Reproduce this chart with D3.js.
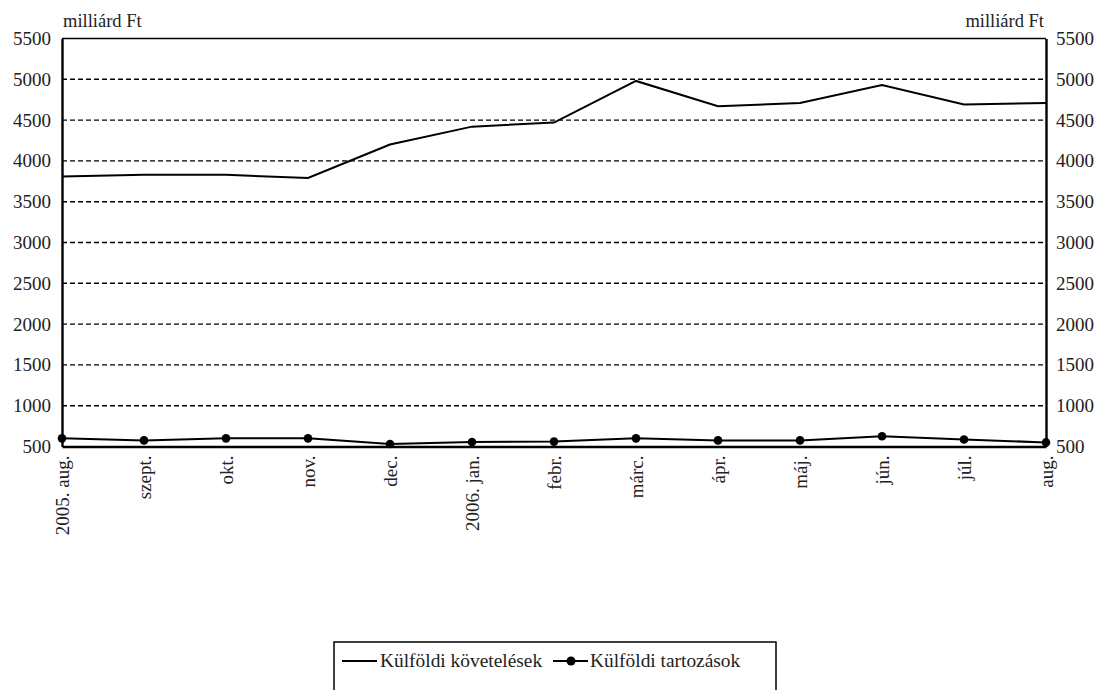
<!DOCTYPE html>
<html><head><meta charset="utf-8">
<script src="https://cdn.jsdelivr.net/npm/d3@7"></script>
<style>
body{margin:0;background:#fff;}
</style></head>
<body><svg id="c" width="1098" height="690"></svg>
<script>
const categories = ["2005. aug.","szept.","okt.","nov.","dec.","2006. jan.","febr.","márc.","ápr.","máj.","jún.","júl.","aug."];
const claims = [3810,3830,3830,3790,4200,4420,4470,4980,4670,4710,4930,4690,4710];
const liabilities = [600,575,600,600,530,555,560,600,575,575,625,585,550];
const yTicks = [500,1000,1500,2000,2500,3000,3500,4000,4500,5000,5500];
const unitLabel = "milliárd Ft";
const seriesNames = ["Külföldi követelések","Külföldi tartozások"];

const FONT = '"Liberation Serif"';
const svg = d3.select("#c");
const L = 62, R = 1046, T = 38.5, B = 446.5;
const x = d3.scalePoint().domain(categories).range([L, R]);
const y = d3.scaleLinear().domain([500, 5500]).range([B, T]);

// gridlines
svg.append("g").selectAll("line").data(yTicks.filter(v => v > 500 && v < 5500)).join("line")
  .attr("x1", L).attr("x2", R).attr("y1", d => y(d)).attr("y2", d => y(d))
  .attr("stroke", "#000").attr("stroke-width", 1.4).attr("stroke-dasharray", "5,3");

// frame top
svg.append("line").attr("x1", L).attr("x2", R).attr("y1", y(5500)).attr("y2", y(5500))
  .attr("stroke", "#000").attr("stroke-width", 1.6);

// axes
const leftAxis = d3.axisLeft(y).tickValues(yTicks).tickSize(0).tickPadding(11).tickFormat(d3.format("d"));
const gl = svg.append("g").attr("transform", `translate(${L},0)`).call(leftAxis);
const rightAxis = d3.axisRight(y).tickValues(yTicks).tickSize(0).tickPadding(10).tickFormat(d3.format("d"));
const gr = svg.append("g").attr("transform", `translate(${R},0)`).call(rightAxis);
const bottomAxis = d3.axisBottom(x).tickSize(0).tickPadding(0);
const gb = svg.append("g").attr("transform", `translate(0,${B})`).call(bottomAxis);
[gl, gr, gb].forEach(g => {
  g.attr("font-family", null).attr("font-size", null);
  g.select(".domain").attr("stroke", "#000").attr("stroke-width", 2.4);
  g.selectAll("text").style("font-family", FONT).style("font-size", "19px").attr("fill", "#222");
});
gb.selectAll("text").style("font-size", "19px").attr("transform", "rotate(-90)").attr("text-anchor", "end")
  .attr("x", -9).attr("y", 0).attr("dy", "0.32em");

// unit labels
svg.append("text").attr("x", L + 1).attr("y", 27).style("font-family", FONT).style("font-size", "18.5px").attr("fill", "#222").text(unitLabel);
svg.append("text").attr("x", R - 2).attr("y", 27).style("font-family", FONT).style("font-size", "18.5px").attr("fill", "#222").attr("text-anchor", "end").text(unitLabel);

// series
const line = d3.line().x((d, i) => x(categories[i])).y(d => y(d));
svg.append("path").datum(claims).attr("d", line).attr("fill", "none").attr("stroke", "#000").attr("stroke-width", 2);
svg.append("path").datum(liabilities).attr("d", line).attr("fill", "none").attr("stroke", "#000").attr("stroke-width", 2);
svg.append("g").selectAll("circle").data(liabilities).join("circle")
  .attr("cx", (d, i) => x(categories[i])).attr("cy", d => y(d)).attr("r", 4.3).attr("fill", "#000");

// legend
const lg = svg.append("g");
lg.append("rect").attr("x", 334).attr("y", 642).attr("width", 442).attr("height", 60)
  .attr("fill", "#fff").attr("stroke", "#000").attr("stroke-width", 1.5);
const ly = 661;
lg.append("line").attr("x1", 342).attr("x2", 377).attr("y1", ly).attr("y2", ly).attr("stroke", "#000").attr("stroke-width", 2);
lg.append("text").attr("x", 380).attr("y", ly).attr("dy", "0.33em").style("font-family", FONT).style("font-size", "19.4px").attr("fill", "#222").text(seriesNames[0]);
lg.append("line").attr("x1", 553).attr("x2", 588).attr("y1", ly).attr("y2", ly).attr("stroke", "#000").attr("stroke-width", 2);
lg.append("circle").attr("cx", 571).attr("cy", ly).attr("r", 4.5).attr("fill", "#000");
lg.append("text").attr("x", 590).attr("y", ly).attr("dy", "0.33em").style("font-family", FONT).style("font-size", "19.4px").attr("fill", "#222").text(seriesNames[1]);
</script></body></html>
